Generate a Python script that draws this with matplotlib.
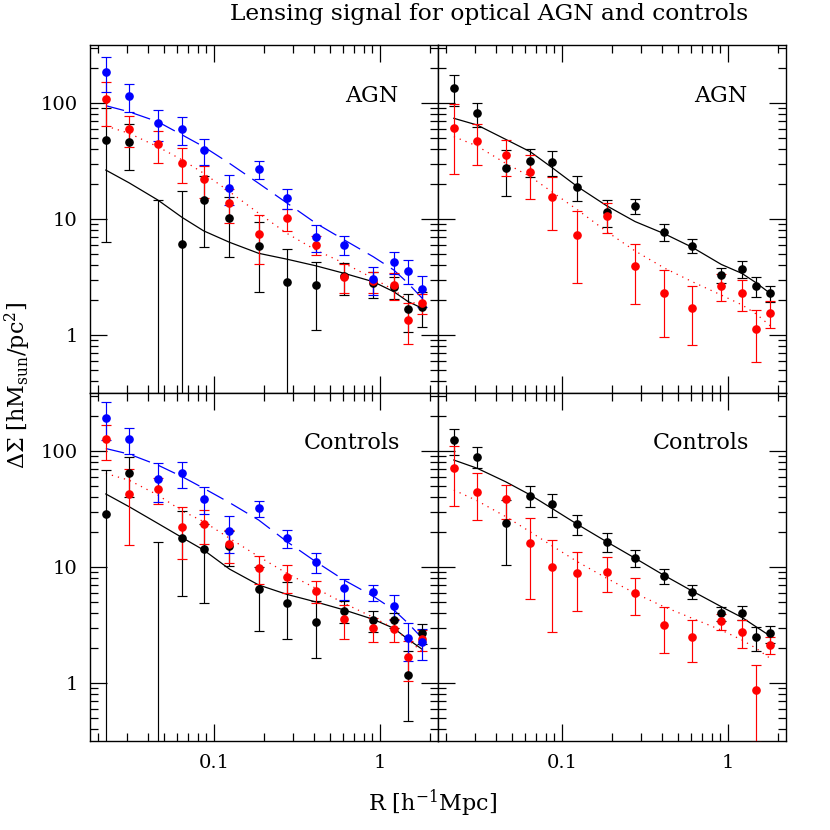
import matplotlib

matplotlib.use("Agg")

import matplotlib.pyplot as plt
import numpy as np
from matplotlib.ticker import LogLocator, NullFormatter, FixedFormatter

plt.rcParams['font.family'] = 'DejaVu Serif'
plt.rcParams['mathtext.fontset'] = 'dejavuserif'

# projected radius of the bins [h^-1 Mpc]
r = [0.0223, 0.0308, 0.0458, 0.0644, 0.0867, 0.124, 0.186,
     0.276, 0.411, 0.610, 0.912, 1.214, 1.48, 1.80]

# ---- top left: AGN ----
tl_blue = [186, 115, 66.8, 59.3, 39.4, 18.6, 27.0, 15.1, 7.04, 5.97, 3.02, 4.28, 3.59, 2.48]
tl_blue_err = [62, 31, 19.5, 16, 10, 5.3, 4.7, 2.9, 1.8, 1.1, 0.8, 0.95, 0.85, 0.72]
tl_red = [108, 59.3, 44.0, 30.6, 22.0, 13.8, 7.43, 10.1, 5.97, 3.18, 2.9, 2.7, 1.36, 1.88]
tl_red_err = [45, 17.5, 13.5, 10, 6.8, 4.5, 3.3, 2.2, 1.1, 0.9, 0.6, 0.7, 0.52, 0.36]
tl_black = [48, 45.8, 0.2, 6.05, 14.6, 10.1, 5.85, 2.88, 2.7, 3.2, 2.8, 2.61, 1.66, 1.75]
tl_black_err = [41.7, 19.5, 14.4, 11.5, 8.9, 5.4, 3.5, 2.6, 1.6, 1.0, 0.7, 0.55, 0.6, 0.58]
tl_blue_fit = [94.8, 84, 69, 53, 42, 30.2, 20.3, 13.7, 9.2, 6.6, 4.73, 3.63, 2.79, 2.07]
tl_red_fit = [63.4, 54.8, 42, 32.3, 24.8, 17.2, 11.2, 7.5, 5.4, 4.15, 3.08, 2.44, 2.0, 1.75]
tl_black_fit = [26.4, 20.5, 14.6, 10.3, 7.9, 6.3, 5.06, 4.5, 3.95, 3.4, 2.88, 2.36, 1.94, 1.70]

# ---- top right: AGN ----
tr_red = [61.2, 47.3, 35.6, 25.4, 15.5, 7.28, 10.7, 3.96, 2.29, 1.72, 2.66, 2.29, 1.12, 1.56]
tr_red_err = [37, 18, 12, 10.5, 7.4, 4.5, 3.1, 2.1, 1.33, 0.9, 0.7, 0.69, 0.53, 0.42]
tr_black = [134, 81.5, 27.7, 31.8, 31.2, 19.0, 11.6, 12.9, 7.7, 5.9, 3.29, 3.71, 2.64, 2.28]
tr_black_err = [40, 19, 12, 8.7, 7.6, 4.6, 3.1, 1.9, 1.3, 0.8, 0.47, 0.6, 0.5, 0.36]
tr_red_fit = [51.3, 42.6, 30.2, 23.2, 17.2, 12.0, 7.8, 5.3, 3.8, 2.88, 2.21, 1.82, 1.52, 1.2]
tr_black_fit = [73.8, 64.6, 48.6, 38, 27.9, 19, 13.0, 9.5, 7.5, 5.7, 4.06, 3.4, 2.82, 2.28]

# ---- bottom left: controls ----
bl_blue = [194, 127, 57.4, 64.2, 38.5, 20.4, 32.1, 17.7, 11.0, 6.55, 6.05, 4.61, 2.43, 2.24]
bl_blue_err = [69, 32, 21, 16, 10, 7.3, 5, 3, 2.1, 1.4, 1.0, 1.1, 0.88, 0.67]
bl_red = [126, 42.4, 46.8, 22.3, 23.5, 15.8, 9.86, 8.15, 6.21, 3.54, 2.96, 2.90, 1.67, 2.38]
bl_red_err = [42, 27, 12, 10.5, 7.7, 5, 2.7, 2.2, 1.3, 1.15, 0.7, 0.65, 0.62, 0.5]
bl_black = [28.5, 64.2, 0.2, 17.9, 14.2, 15.3, 6.42, 4.92, 3.38, 4.2, 3.49, 3.49, 1.17, 2.68]
bl_black_err = [40, 24, 16.1, 12.3, 9.3, 5, 3.6, 2.54, 1.73, 0.9, 0.72, 0.5, 0.7, 0.52]
bl_blue_fit = [105, 94, 75.7, 60, 47.7, 35.9, 25.4, 16.5, 11.1, 7.7, 5.6, 4.26, 3.27, 2.43]
bl_red_fit = [64, 56, 41.8, 30.4, 24.6, 17.7, 12.3, 8.8, 6.55, 4.86, 3.68, 2.96, 2.35, 1.86]
bl_black_fit = [42.6, 33.1, 23.8, 17.9, 14, 9.6, 7.0, 5.8, 5.0, 4.26, 3.54, 2.96, 2.38, 1.95]

# ---- bottom right: controls ----
br_red = [71.8, 44.6, 38.5, 16.0, 9.94, 8.8, 9.1, 5.93, 3.16, 2.51, 3.42, 2.74, 0.87, 2.13]
br_red_err = [38.5, 19.4, 12.4, 10.7, 7.2, 4.6, 3, 2.05, 1.33, 1.0, 0.55, 0.72, 0.56, 0.36]
br_black = [124, 89.3, 24.1, 41.2, 34.7, 23.3, 16.5, 12.0, 8.4, 6.12, 3.99, 4.04, 2.48, 2.68]
br_black_err = [32, 18.5, 13.6, 8.6, 7.6, 4.5, 3, 2, 1.25, 0.86, 0.56, 0.55, 0.58, 0.45]
br_red_fit = [46.1, 37.3, 27.2, 20.1, 15.3, 11.1, 8.0, 5.93, 4.55, 3.61, 2.86, 2.35, 1.99, 1.63]
br_black_fit = [83.6, 71, 54.3, 41.8, 32.1, 23.3, 16.5, 11.9, 8.5, 6.2, 4.55, 3.68, 3.05, 2.54]

BLUE = '#0000ff'
RED = '#ff0000'
BLACK = '#000000'


def draw_points(ax, y, err, color):
    y = np.asarray(y, float)
    err = np.asarray(err, float)
    lo = y - np.maximum(y - err, 1e-3)
    ax.errorbar(r, y, yerr=[lo, err], fmt='o', color=color, ms=5.2,
                elinewidth=0.85, capsize=3.8, capthick=0.85, zorder=3)


def style_axis(ax, show_x, show_y):
    ax.set_xscale('log')
    ax.set_yscale('log')
    ax.set_xlim(0.0179, 2.24)
    ax.set_ylim(10 ** -0.5, 10 ** 2.5)
    ax.set_xticks([0.1, 1])
    ax.set_yticks([1, 10, 100])
    ax.xaxis.set_minor_locator(LogLocator(base=10, subs=np.arange(2, 10)))
    ax.yaxis.set_minor_locator(LogLocator(base=10, subs=np.arange(2, 10)))
    ax.xaxis.set_minor_formatter(NullFormatter())
    ax.yaxis.set_minor_formatter(NullFormatter())
    ax.xaxis.set_major_formatter(FixedFormatter(['0.1', '1']) if show_x else NullFormatter())
    ax.yaxis.set_major_formatter(FixedFormatter(['1', '10', '100']) if show_y else NullFormatter())
    ax.tick_params(which='both', direction='in', top=True, right=True, width=0.9,
                   labelsize=14, pad=9)
    ax.tick_params(which='major', length=12)
    ax.tick_params(which='minor', length=6)
    for s in ax.spines.values():
        s.set_linewidth(1.0)


fig = plt.figure(figsize=(8.3, 8.3), dpi=100)
L, M, R = 90 / 830, 438 / 830, 786 / 830
B, H, T = 1 - 741 / 830, 1 - 393 / 830, 1 - 45 / 830

ax_tl = fig.add_axes([L, H, M - L, T - H])
ax_tr = fig.add_axes([M, H, R - M, T - H])
ax_bl = fig.add_axes([L, B, M - L, H - B])
ax_br = fig.add_axes([M, B, R - M, H - B])

dash = (0, (15, 7))
dot = (0, (1, 4))

# top left
ax_tl.plot(r, tl_black_fit, color=BLACK, lw=0.9)
ax_tl.plot(r, tl_red_fit, color=RED, lw=0.9, ls=dot)
ax_tl.plot(r, tl_blue_fit, color=BLUE, lw=0.9, ls=dash)
draw_points(ax_tl, tl_black, tl_black_err, BLACK)
draw_points(ax_tl, tl_red, tl_red_err, RED)
draw_points(ax_tl, tl_blue, tl_blue_err, BLUE)

# top right
ax_tr.plot(r, tr_black_fit, color=BLACK, lw=0.9)
ax_tr.plot(r, tr_red_fit, color=RED, lw=0.9, ls=dot)
draw_points(ax_tr, tr_black, tr_black_err, BLACK)
draw_points(ax_tr, tr_red, tr_red_err, RED)

# bottom left
ax_bl.plot(r, bl_black_fit, color=BLACK, lw=0.9)
ax_bl.plot(r, bl_red_fit, color=RED, lw=0.9, ls=dot)
ax_bl.plot(r, bl_blue_fit, color=BLUE, lw=0.9, ls=dash)
draw_points(ax_bl, bl_black, bl_black_err, BLACK)
draw_points(ax_bl, bl_red, bl_red_err, RED)
draw_points(ax_bl, bl_blue, bl_blue_err, BLUE)

# bottom right
ax_br.plot(r, br_black_fit, color=BLACK, lw=0.9)
ax_br.plot(r, br_red_fit, color=RED, lw=0.9, ls=dot)
draw_points(ax_br, br_black, br_black_err, BLACK)
draw_points(ax_br, br_red, br_red_err, RED)

style_axis(ax_tl, False, True)
style_axis(ax_tr, False, False)
style_axis(ax_bl, True, True)
style_axis(ax_br, True, False)

ax_tl.text(0.81, 0.853, 'AGN', transform=ax_tl.transAxes, ha='center', va='center', fontsize=16)
ax_tr.text(0.813, 0.853, 'AGN', transform=ax_tr.transAxes, ha='center', va='center', fontsize=16)
ax_bl.text(0.753, 0.856, 'Controls', transform=ax_bl.transAxes, ha='center', va='center', fontsize=16)
ax_br.text(0.756, 0.856, 'Controls', transform=ax_br.transAxes, ha='center', va='center', fontsize=16)

fig.text(489 / 830, 1 - 14 / 830, 'Lensing signal for optical AGN and controls',
         ha='center', va='center', fontsize=16.8)
fig.text(432 / 830, 1 - 803 / 830, r'$\mathrm{R\ [h^{-1}Mpc]}$',
         ha='center', va='center', fontsize=16)
fig.text(18 / 830, 1 - 385 / 830, r'$\mathrm{\Delta\Sigma\ [hM_{sun}/pc^2]}$',
         ha='center', va='center', fontsize=16, rotation=90)

fig.savefig('out.png', dpi=100)
